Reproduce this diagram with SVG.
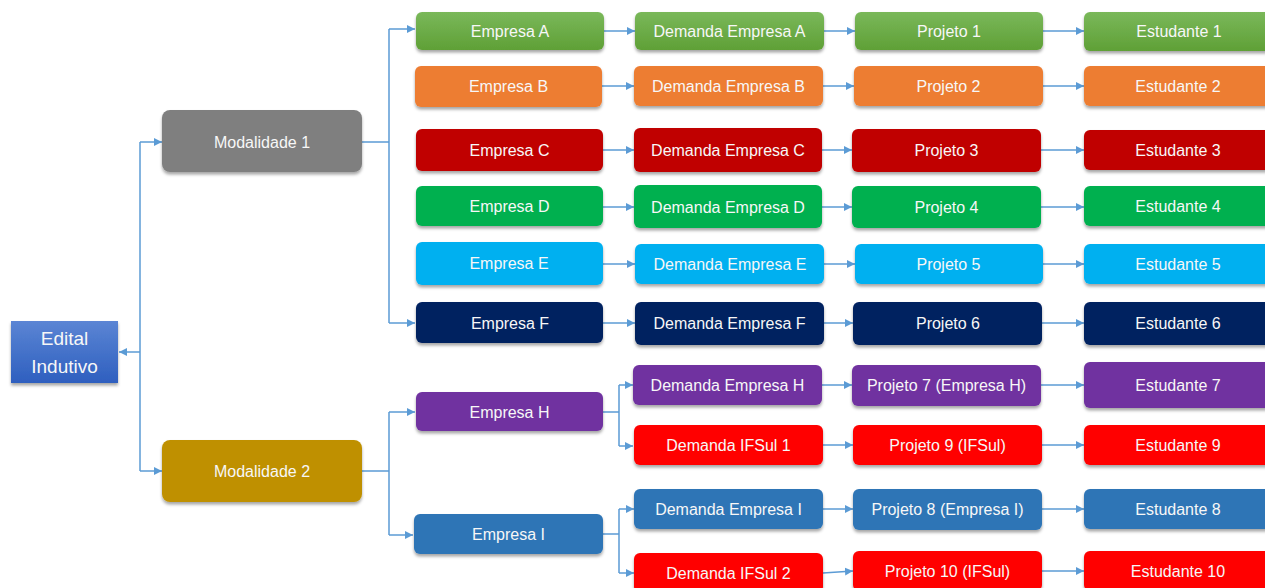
<svg xmlns="http://www.w3.org/2000/svg" width="1265" height="588" viewBox="0 0 1265 588">
<defs>
<linearGradient id="gEdital" x1="0" y1="0" x2="0" y2="1"><stop offset="0" stop-color="#5b85d4"/><stop offset="1" stop-color="#2e5fbf"/></linearGradient>
<linearGradient id="gGreen" x1="0" y1="0" x2="0" y2="1"><stop offset="0" stop-color="#7ab85a"/><stop offset="1" stop-color="#5fa036"/></linearGradient>
<filter id="sh" x="-10%" y="-20%" width="120%" height="160%"><feDropShadow dx="0" dy="2.5" stdDeviation="1.6" flood-color="#000" flood-opacity="0.35"/></filter>
<marker id="arr" viewBox="0 0 10 10" refX="10" refY="5" markerWidth="8" markerHeight="8" markerUnits="userSpaceOnUse" orient="auto"><path d="M0,0 L10,5 L0,10 z" fill="#5b9bd5"/></marker>
</defs>
<style>
.b{filter:url(#sh)}
.t{font-family:"Liberation Sans",Arial,sans-serif;font-size:16px;fill:#f7f7f7;text-anchor:middle}
.c path{fill:none;stroke:#5b9bd5;stroke-width:1.5}
.a{marker-end:url(#arr)}
.cA{fill:url(#gGreen)}.cB{fill:#ed7d31}.cC{fill:#c00000}.cD{fill:#00b050}.cE{fill:#00b0f0}.cF{fill:#002060}.cH{fill:#7030a0}.cR{fill:#ff0000}.cI{fill:#2e75b6}
</style>
<rect width="1265" height="588" fill="#ffffff"/>
<g class="c" id="connectors">
<path class="a" d="M140,352 L119,352"/>
<path d="M140,142 L140,471"/>
<path class="a" d="M140,142 L162,142"/>
<path class="a" d="M140,471 L162,471"/>
<path d="M362,142 L389,142 M389,29 L389,323"/>
<path class="a" d="M389,29 L415,29"/>
<path class="a" d="M389,323 L415,323"/>
<path d="M362,471 L389,471 M389,412 L389,535"/>
<path class="a" d="M389,412 L415,412"/>
<path class="a" d="M389,535 L413,535"/>
<path d="M603,412 L619,412 M619,385 L619,446"/>
<path class="a" d="M619,385 L633,385"/>
<path class="a" d="M619,446 L633,446"/>
<path d="M603,534 L619,534 M619,509 L619,573"/>
<path class="a" d="M619,509 L634,509"/>
<path class="a" d="M619,573 L634,573"/>
<path class="a" d="M604,31 L635,31"/><path class="a" d="M824,31 L855,31"/><path class="a" d="M1043,31 L1084,31"/>
<path class="a" d="M602,86 L634,86"/><path class="a" d="M823,86 L854,86"/><path class="a" d="M1043,86 L1084,86"/>
<path class="a" d="M603,150 L634,150"/><path class="a" d="M822,150 L852,150"/><path class="a" d="M1041,150 L1084,150"/>
<path class="a" d="M603,207 L634,207"/><path class="a" d="M822,207 L852,207"/><path class="a" d="M1041,207 L1084,207"/>
<path class="a" d="M602,264 L635,264"/><path class="a" d="M824,264 L855,264"/><path class="a" d="M1043,264 L1084,264"/>
<path class="a" d="M603,323 L635,323"/><path class="a" d="M824,323 L853,323"/><path class="a" d="M1042,323 L1084,323"/>
<path class="a" d="M822,385 L852,385"/><path class="a" d="M1041,385 L1084,385"/>
<path class="a" d="M823,445 L853,445"/><path class="a" d="M1042,445 L1084,445"/>
<path class="a" d="M823,509 L853,509"/><path class="a" d="M1042,509 L1084,509"/>
<path class="a" d="M823,573 L853,571"/><path class="a" d="M1042,571 L1084,571"/>
</g>
<g id="edital"><rect class="b" x="11" y="321" width="107" height="62" fill="url(#gEdital)"/><text class="t" style="font-size:19px" x="64.5" y="345">Edital</text><text class="t" style="font-size:19px" x="64.5" y="373">Indutivo</text></g>
<g id="mod1"><rect class="b" x="162" y="110" width="200" height="62" rx="8" fill="#7f7f7f"/><text class="t" x="262" y="147.5">Modalidade 1</text></g>
<g id="mod2"><rect class="b" x="162" y="440" width="200" height="62" rx="8" fill="#bf9000"/><text class="t" x="262" y="476.5">Modalidade 2</text></g>

<g id="empA"><rect class="b cA" x="416" y="12" width="188" height="38" rx="6"/><text class="t" x="510" y="36.5">Empresa A</text></g>
<g id="demA"><rect class="b cA" x="635" y="12" width="189" height="38" rx="6"/><text class="t" x="729.5" y="36.5">Demanda Empresa A</text></g>
<g id="proA"><rect class="b cA" x="855" y="12" width="188" height="38" rx="6"/><text class="t" x="949" y="36.5">Projeto 1</text></g>
<g id="estA"><rect class="b cA" x="1084" y="12" width="190" height="39" rx="6"/><text class="t" x="1179" y="36.5">Estudante 1</text></g>

<g id="empB"><rect class="b cB" x="415" y="66" width="187" height="41" rx="6"/><text class="t" x="508.5" y="92">Empresa B</text></g>
<g id="demB"><rect class="b cB" x="634" y="66" width="189" height="40" rx="6"/><text class="t" x="728.5" y="92">Demanda Empresa B</text></g>
<g id="proB"><rect class="b cB" x="854" y="66" width="189" height="40" rx="6"/><text class="t" x="948.5" y="92">Projeto 2</text></g>
<g id="estB"><rect class="b cB" x="1084" y="66" width="190" height="40" rx="6"/><text class="t" x="1178" y="92">Estudante 2</text></g>

<g id="empC"><rect class="b cC" x="416" y="129" width="187" height="42" rx="6"/><text class="t" x="509.5" y="155.5">Empresa C</text></g>
<g id="demC"><rect class="b cC" x="634" y="128" width="188" height="44" rx="6"/><text class="t" x="728" y="155.5">Demanda Empresa C</text></g>
<g id="proC"><rect class="b cC" x="852" y="129" width="189" height="43" rx="6"/><text class="t" x="946.5" y="156">Projeto 3</text></g>
<g id="estC"><rect class="b cC" x="1084" y="130" width="190" height="40" rx="6"/><text class="t" x="1178" y="156">Estudante 3</text></g>

<g id="empD"><rect class="b cD" x="416" y="186" width="187" height="40" rx="6"/><text class="t" x="509.5" y="212">Empresa D</text></g>
<g id="demD"><rect class="b cD" x="634" y="185" width="188" height="43" rx="6"/><text class="t" x="728" y="213">Demanda Empresa D</text></g>
<g id="proD"><rect class="b cD" x="852" y="186" width="189" height="42" rx="6"/><text class="t" x="946.5" y="213">Projeto 4</text></g>
<g id="estD"><rect class="b cD" x="1084" y="186" width="190" height="40" rx="6"/><text class="t" x="1178" y="212">Estudante 4</text></g>

<g id="empE"><rect class="b cE" x="416" y="242" width="187" height="43" rx="6"/><text class="t" x="509" y="269">Empresa E</text></g>
<g id="demE"><rect class="b cE" x="635" y="244" width="189" height="40" rx="6"/><text class="t" x="730" y="270">Demanda Empresa E</text></g>
<g id="proE"><rect class="b cE" x="855" y="244" width="188" height="40" rx="6"/><text class="t" x="948.5" y="270">Projeto 5</text></g>
<g id="estE"><rect class="b cE" x="1084" y="244" width="190" height="40" rx="6"/><text class="t" x="1178" y="270">Estudante 5</text></g>

<g id="empF"><rect class="b cF" x="416" y="302" width="187" height="41" rx="6"/><text class="t" x="510" y="328.5">Empresa F</text></g>
<g id="demF"><rect class="b cF" x="635" y="302" width="189" height="43" rx="6"/><text class="t" x="729.5" y="329">Demanda Empresa F</text></g>
<g id="proF"><rect class="b cF" x="853" y="302" width="189" height="43" rx="6"/><text class="t" x="948" y="329">Projeto 6</text></g>
<g id="estF"><rect class="b cF" x="1084" y="302" width="190" height="43" rx="6"/><text class="t" x="1178" y="329">Estudante 6</text></g>

<g id="empH"><rect class="b cH" x="416" y="392" width="187" height="39" rx="6"/><text class="t" x="509.5" y="417.5">Empresa H</text></g>
<g id="demH"><rect class="b cH" x="633" y="365" width="189" height="40" rx="6"/><text class="t" x="727.5" y="391">Demanda Empresa H</text></g>
<g id="proH"><rect class="b cH" x="852" y="365" width="189" height="41" rx="6"/><text class="t" x="946.5" y="391">Projeto 7 (Empresa H)</text></g>
<g id="estH"><rect class="b cH" x="1084" y="362" width="190" height="46" rx="6"/><text class="t" x="1178" y="391">Estudante 7</text></g>

<g id="demIF1"><rect class="b cR" x="634" y="425" width="189" height="40" rx="6"/><text class="t" x="728.5" y="451">Demanda IFSul 1</text></g>
<g id="proIF1"><rect class="b cR" x="853" y="425" width="189" height="40" rx="6"/><text class="t" x="947.5" y="451">Projeto 9 (IFSul)</text></g>
<g id="estIF1"><rect class="b cR" x="1084" y="425" width="190" height="40" rx="6"/><text class="t" x="1178" y="451">Estudante 9</text></g>

<g id="empI"><rect class="b cI" x="414" y="514" width="189" height="40" rx="6"/><text class="t" x="508.5" y="540">Empresa I</text></g>
<g id="demI"><rect class="b cI" x="634" y="489" width="189" height="40" rx="6"/><text class="t" x="728.5" y="515">Demanda Empresa I</text></g>
<g id="proI"><rect class="b cI" x="853" y="489" width="189" height="41" rx="6"/><text class="t" x="947.5" y="515">Projeto 8 (Empresa I)</text></g>
<g id="estI"><rect class="b cI" x="1084" y="489" width="190" height="40" rx="6"/><text class="t" x="1178" y="515">Estudante 8</text></g>

<g id="demIF2"><rect class="b cR" x="634" y="553" width="189" height="40" rx="6"/><text class="t" x="728.5" y="579">Demanda IFSul 2</text></g>
<g id="proIF2"><rect class="b cR" x="853" y="551" width="189" height="40" rx="6"/><text class="t" x="947.5" y="577">Projeto 10 (IFSul)</text></g>
<g id="estIF2"><rect class="b cR" x="1084" y="551" width="190" height="40" rx="6"/><text class="t" x="1178" y="577">Estudante 10</text></g>
</svg>
